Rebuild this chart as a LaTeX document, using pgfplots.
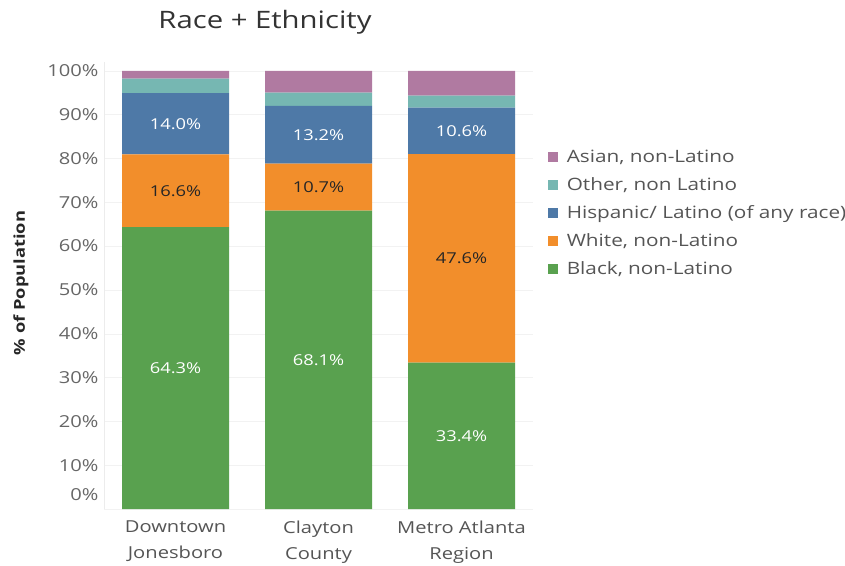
\documentclass[border=0pt]{standalone}
\usepackage{fontspec}
\setmainfont{Open Sans}[FakeStretch=1.22]
\usepackage{pgfplots}
\pgfplotsset{compat=1.18}
\definecolor{cBlack}{HTML}{59A14F}
\definecolor{cWhite}{HTML}{F28E2B}
\definecolor{cHisp}{HTML}{4E79A7}
\definecolor{cOther}{HTML}{76B7B2}
\definecolor{cAsian}{HTML}{B07AA1}
\definecolor{tickgray}{HTML}{666666}
\definecolor{labgray}{HTML}{555555}
\begin{document}
\begin{tikzpicture}
\useasboundingbox (0pt,0pt) rectangle (845pt,565pt);
\begin{axis}[
  at={(104pt,56pt)}, anchor=south west,
  scale only axis, width=429pt, height=447pt,
  xmin=-0.5, xmax=2.5, ymin=0, ymax=102,
  ybar stacked, bar width=107pt,
  xtick={0,1,2},
  xticklabels={{Downtown\\Jonesboro},{Clayton\\County},{Metro Atlanta\\Region}},
  xticklabel style={align=center, font=\fontsize{16.5}{26}\selectfont, text=labgray, yshift=-8pt},
  ytick={10,20,...,100},
  yticklabel={\pgfmathprintnumber{\tick}\%},
  extra y ticks={0},
  extra y tick labels={0\%},
  extra y tick style={yticklabel style={yshift=14pt}},
  yticklabel style={font=\fontsize{16.5}{18}\selectfont, text=tickgray, xshift=-2pt},
  /pgf/number format/assume math mode=true,
  major tick length=0pt,
  axis x line*=bottom, axis y line*=left,
  x axis line style={draw=none},
  y axis line style={draw=gray!15},
  ymajorgrids, grid style={draw=gray!10},
  legend style={at={(1.034,0.808)}, anchor=north west, draw=none, fill=none,
    font=\fontsize{17}{18}\selectfont, text=labgray, row sep=9pt,
    inner sep=0pt, nodes={inner sep=2pt, text height=12pt, text depth=3pt}},
  legend cell align=left,
  reverse legend,
  legend image code/.code={\draw[#1,draw=none] (0pt,-4.5pt) rectangle (10.5pt,6pt); \path (17pt,0pt);},
  every node near coord/.append style={font=\fontsize{15}{18}\selectfont, anchor=center},
  nodes near coords={\pgfmathprintnumber[fixed,fixed zerofill,precision=1]{\pgfplotspointmeta}\%},
]
\addplot[fill=cBlack, draw=none, point meta=\thisrow{y}, nodes near coords style={text=white}]
  table {x y
0 64.3
1 68.1
2 33.4
};
\addplot[fill=cWhite, draw=none, point meta=\thisrow{y}, nodes near coords style={text=black!85}]
  table {x y
0 16.6
1 10.7
2 47.6
};
\addplot[fill=cHisp, draw=none, point meta=\thisrow{y}, nodes near coords style={text=white}]
  table {x y
0 14.0
1 13.2
2 10.6
};
\addplot[fill=cOther, draw=none, nodes near coords={}]
  table {x y
0 3.3
1 3.0
2 2.7
};
\addplot[fill=cAsian, draw=none, nodes near coords={}]
  table {x y
0 1.8
1 5.0
2 5.7
};
\legend{Black{,} non-Latino, White{,} non-Latino, Hispanic/ Latino (of any race), Other{,} non Latino, Asian{,} non-Latino}
\end{axis}
\node[font=\fontsize{24}{26}\selectfont, text=black!80] at (265pt,543pt) {Race + Ethnicity};
\node[rotate=90, font=\bfseries\fontsize{15}{16}\selectfont, text=black!85] at (21pt,282pt) {\% of Population};
\end{tikzpicture}
\end{document}
